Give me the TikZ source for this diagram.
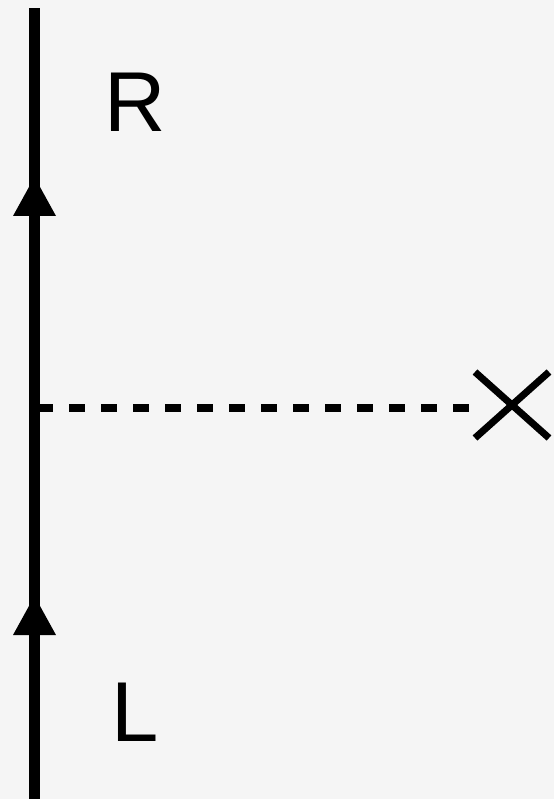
\documentclass[tikz,border=0pt]{standalone}
\usepackage{fontspec}
\setmainfont{Liberation Sans}
\usetikzlibrary{calc}
\begin{document}
\begin{tikzpicture}[x=1pt,y=-1pt,
  fermion/.style={line width=11pt},
  scalar/.style={line width=8pt,dash pattern=on 16pt off 16pt},
  crossline/.style={line width=7pt},
  arrowhd/.style={fill=black},
  lbl/.style={inner sep=0pt,font=\fontsize{85}{90}\selectfont}]
\fill[black!4] (0,0) rectangle (554,799);
\useasboundingbox (0,0) rectangle (554,799);
\coordinate (top) at (34.5,8);
\coordinate (bot) at (34.5,799);
\coordinate (v) at (37,407.5);
\coordinate (xc) at (512,405);
\draw[fermion] (bot) -- (top);
\fill[arrowhd] (34.5,177) -- (56,216) -- (13,216) -- cycle;
\fill[arrowhd] (34.5,596) -- (56,635) -- (13,635) -- cycle;
\draw[scalar] (v) -- (470,407.5);
\draw[crossline] ($(xc)+(-37,-33)$) -- ($(xc)+(37,33)$);
\draw[crossline] ($(xc)+(-37,33)$) -- ($(xc)+(37,-33)$);
\node[lbl] (R) at (135.5,102) {R};
\node[lbl] (L) at (135,712) {L};
\end{tikzpicture}
\end{document}
